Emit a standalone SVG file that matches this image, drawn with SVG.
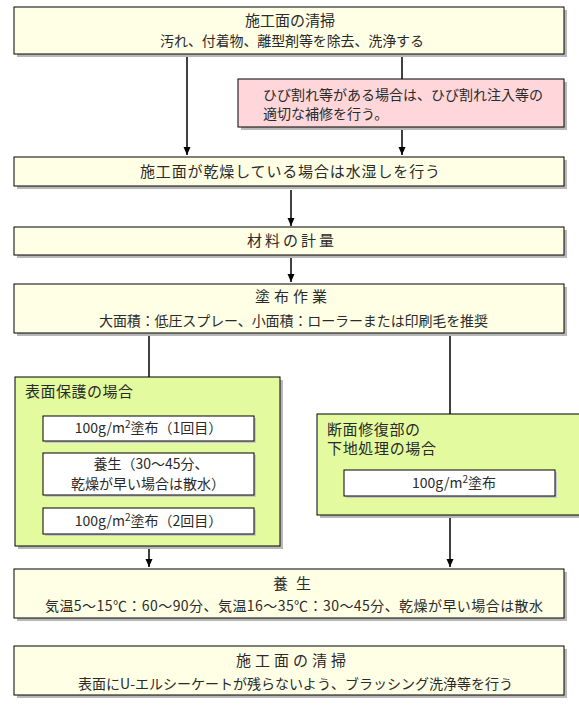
<svg xmlns="http://www.w3.org/2000/svg" width="579" height="710" viewBox="0 0 579 710">
<defs>
<style>
text{font-family:"Noto Sans CJK JP","Noto Sans",sans-serif;fill:#2a2a2a;}
.box{stroke:#000;stroke-width:1;}
.y{fill:#FFFFE6;}
.p{fill:#FFD7DA;}
.g{fill:#E3FB9E;}
.w{fill:#FFFFFF;}
.sh{fill:#B8B8B8;}
.shw{fill:#C8C8C8;}
.t15{font-size:15px;}
.t14{font-size:14px;}
.con{stroke:#000;stroke-width:1.5;fill:none;}
</style>
<marker id="ah" viewBox="0 0 8 8" refX="8" refY="4" markerWidth="8" markerHeight="8" markerUnits="userSpaceOnUse" orient="auto">
<path d="M0,0.5 L8,4 L0,7.5 Z" fill="#000"/>
</marker>
</defs>
<rect width="579" height="710" fill="#fff"/>

<g id="connectors">
<line class="con" x1="187" y1="54" x2="187" y2="155" marker-end="url(#ah)"/>
<line class="con" x1="402" y1="54" x2="402" y2="80"/>
<line class="con" x1="402" y1="127" x2="402" y2="155" marker-end="url(#ah)"/>
<line class="con" x1="291" y1="190" x2="291" y2="226" marker-end="url(#ah)"/>
<line class="con" x1="291" y1="256" x2="291" y2="282" marker-end="url(#ah)"/>
<line class="con" x1="149" y1="333" x2="149" y2="567" marker-end="url(#ah)"/>
<line class="con" x1="450" y1="333" x2="450" y2="567" marker-end="url(#ah)"/>
</g>

<g id="n1">
<rect class="sh" x="17" y="10" width="550" height="47"/>
<rect class="box y" x="14" y="7" width="550" height="47"/>
<text class="t15" x="290" y="26" text-anchor="middle" textLength="90">施工面の清掃</text>
<text class="t14" x="160" y="46" textLength="264">汚れ、付着物、離型剤等を除去、洗浄する</text>
</g>

<g id="n2">
<rect class="sh" x="241" y="82" width="326" height="48"/>
<rect class="box p" x="238" y="79" width="326" height="48"/>
<text class="t14" x="263" y="100" textLength="280">ひび割れ等がある場合は、ひび割れ注入等の</text>
<text class="t14" x="263" y="119">適切な補修を行う。</text>
</g>

<g id="n3">
<rect class="sh" x="17" y="160" width="550" height="29"/>
<rect class="box y" x="14" y="157" width="550" height="29"/>
<text class="t15" x="140" y="177" textLength="300">施工面が乾燥している場合は水湿しを行う</text>
</g>

<g id="n4">
<rect class="sh" x="17" y="230" width="550" height="28"/>
<rect class="box y" x="14" y="227" width="550" height="28"/>
<text class="t15" x="247" y="246" textLength="87">材料の計量</text>
</g>

<g id="n5">
<rect class="sh" x="17" y="287" width="550" height="49"/>
<rect class="box y" x="14" y="284" width="550" height="49"/>
<text class="t15" x="255" y="302" textLength="72">塗布作業</text>
<text class="t14" x="99" y="326" textLength="389">大面積：低圧スプレー、小面積：ローラーまたは印刷毛を推奨</text>
</g>

<g id="n6">
<rect class="sh" x="18" y="380" width="265" height="169"/>
<rect class="box g" x="15" y="377" width="265" height="169"/>
<text class="t15" x="25" y="397" textLength="108">表面保護の場合</text>
</g>

<g id="n7">
<rect class="shw" x="45" y="418" width="211" height="25"/>
<rect class="box w" x="43" y="416" width="211" height="25"/>
<text class="t14" x="148.5" y="433" text-anchor="middle">100g/m<tspan font-size="10" dy="-5">2</tspan><tspan dy="5">塗布（1回目）</tspan></text>
</g>

<g id="n8">
<rect class="shw" x="45" y="455" width="211" height="42"/>
<rect class="box w" x="43" y="453" width="211" height="42"/>
<text class="t14" x="151" y="469" text-anchor="middle">養生（30～45分、</text>
<text class="t14" x="148" y="489" text-anchor="middle">乾燥が早い場合は散水）</text>
</g>

<g id="n9">
<rect class="shw" x="45" y="510" width="211" height="26"/>
<rect class="box w" x="43" y="508" width="211" height="26"/>
<text class="t14" x="148.5" y="526" text-anchor="middle">100g/m<tspan font-size="10" dy="-5">2</tspan><tspan dy="5">塗布（2回目）</tspan></text>
</g>

<g id="n10">
<rect class="sh" x="320" y="417" width="270" height="101"/>
<rect class="box g" x="317" y="414" width="270" height="101"/>
<text class="t15" x="327" y="435" textLength="93">断面修復部の</text>
<text class="t15" x="327" y="454" textLength="109">下地処理の場合</text>
</g>

<g id="n11">
<rect class="shw" x="346" y="472" width="211" height="26"/>
<rect class="box w" x="344" y="470" width="211" height="26"/>
<text class="t14" x="454" y="488" text-anchor="middle">100g/m<tspan font-size="10" dy="-5">2</tspan><tspan dy="5">塗布</tspan></text>
</g>

<g id="n12">
<rect class="sh" x="17" y="572" width="550" height="49"/>
<rect class="box y" x="14" y="569" width="550" height="49"/>
<text class="t15" x="273" y="589" textLength="38">養生</text>
<text class="t14" x="45" y="611" textLength="498">気温5～15℃：60～90分、気温16～35℃：30～45分、乾燥が早い場合は散水</text>
</g>

<g id="n13">
<rect class="sh" x="17" y="649" width="550" height="49"/>
<rect class="box y" x="14" y="646" width="550" height="49"/>
<text class="t15" x="236" y="666" textLength="110">施工面の清掃</text>
<text class="t14" x="78" y="689" textLength="435">表面にU-エルシーケートが残らないよう、ブラッシング洗浄等を行う</text>
</g>
</svg>
